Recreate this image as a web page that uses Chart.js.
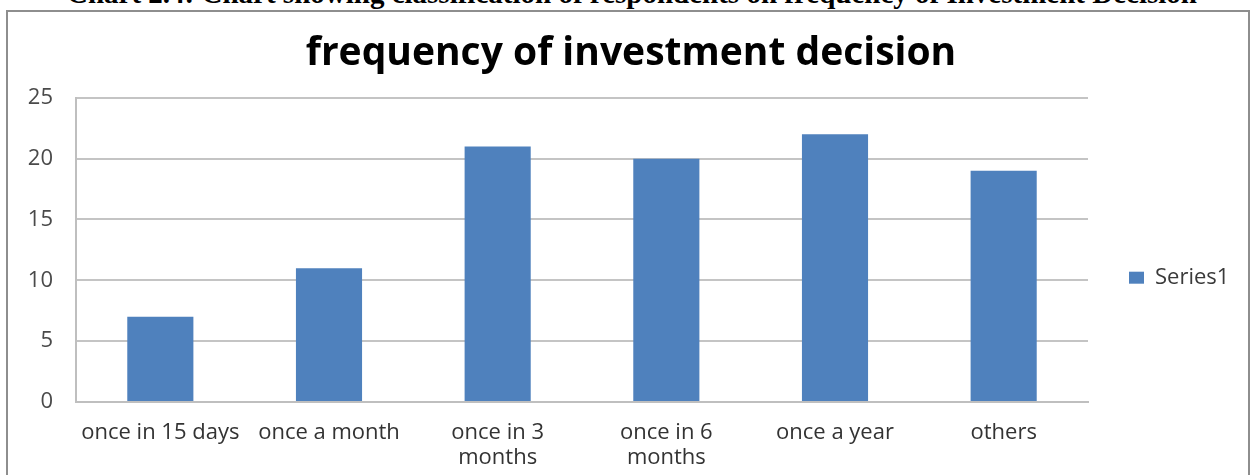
<!DOCTYPE html>
<html>
<head>
<meta charset="utf-8">
<title>frequency of investment decision</title>
<script src="https://cdn.jsdelivr.net/npm/chart.js@4.4.1/dist/chart.umd.min.js"></script>
<style>
    html, body { margin: 0; padding: 0; background: #fff; overflow: hidden; }
    body { width: 1251px; height: 475px; position: relative; }
    #caption {
        position: absolute; left: 67px; top: -21px;
        font: bold 29px "Liberation Serif", "Times New Roman", serif;
        line-height: 29px; white-space: nowrap; color: #000;
    }
    #frame {
        position: absolute; left: 6px; top: 10px;
        width: 1240px; height: 500px;
        border: 2px solid #8e8e8e;
    }
    #chart { position: absolute; left: 0; top: 0; }
</style>
</head>
<body>
<div id="caption">Chart 2.4: Chart showing classification of respondents on frequency of Investment Decision</div>
<div id="frame"></div>
<canvas id="chart" width="1251" height="475"></canvas>

<script>
const chartTitle = "frequency of investment decision";
const categories = ["once in 15 days", "once a month", ["once in 3", "months"], ["once in 6", "months"], "once a year", "others"];
const seriesName = "Series1";
const seriesValues = [7, 11, 21, 20, 22, 19];
const yTicks = [0, 5, 10, 15, 20, 25];

const labelFont = "Open Sans";

const ctx = document.getElementById("chart").getContext("2d");
const chart = new Chart(ctx, {
    type: "bar",
    data: {
        labels: categories,
        datasets: [{
            label: seriesName,
            data: seriesValues,
            backgroundColor: "#4f81bd",
            borderWidth: 0,
            barPercentage: 0.392,
            categoryPercentage: 1
        }]
    },
    options: {
        responsive: false,
        animation: false,
        layout: { padding: { left: 26, right: 15, top: 0, bottom: 0 } },
        plugins: {
            title: {
                display: true,
                text: chartTitle,
                color: "#000",
                font: { family: labelFont, size: 39, weight: "bold" },
                padding: { top: 30, bottom: 21 }
            },
            legend: {
                position: "right",
                maxWidth: 148,
                // empty title only pushes the entry down a bit
                title: { display: true, text: "", padding: { top: 0, bottom: 66 } },
                labels: {
                    boxWidth: 15,
                    boxHeight: 12,
                    padding: 41,
                    color: "#3a3a3a",
                    font: { family: labelFont, size: 22 }
                }
            },
            tooltip: { enabled: false }
        },
        scales: {
            x: {
                grid: { display: false },
                border: { color: "#bfbfbf", width: 2 },
                ticks: {
                    color: "#333333",
                    font: { family: labelFont, size: 22, lineHeight: 1.15 },
                    padding: 10,
                    maxRotation: 0,
                    autoSkip: false
                },
                afterFit: function (scale) { scale.height = 73; }
            },
            y: {
                min: yTicks[0],
                max: yTicks[yTicks.length - 1],
                grid: { color: "#c4c4c4", lineWidth: 2, drawTicks: false },
                border: { color: "#bfbfbf", width: 2 },
                ticks: {
                    stepSize: yTicks[1] - yTicks[0],
                    padding: 23,
                    color: "#4a4a4a",
                    font: { family: labelFont, size: 22 }
                },
                afterFit: function (scale) { scale.width = 50; }
            }
        }
    }
});
</script>
</body>
</html>
